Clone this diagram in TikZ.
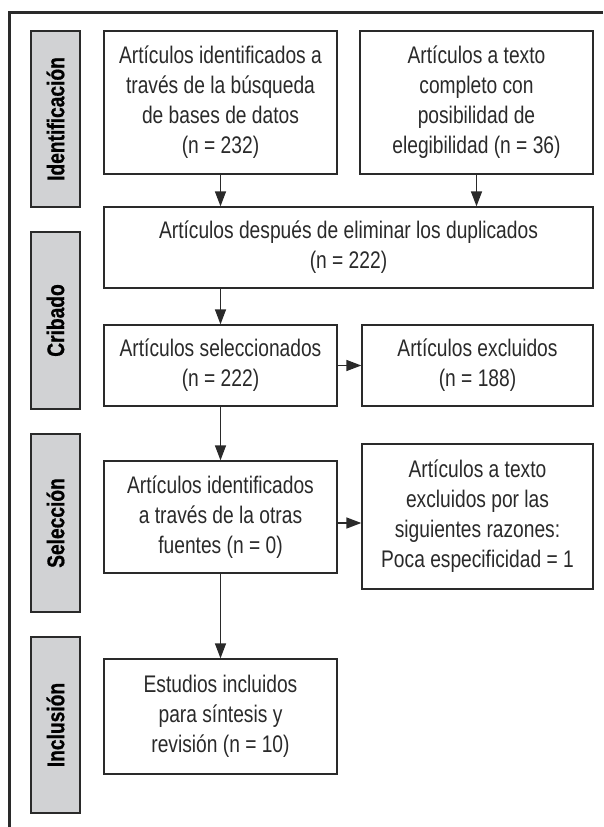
\documentclass[tikz,border=0pt]{standalone}
\usepackage{fontspec}
\setmainfont{Liberation Sans}[FakeStretch=0.8]
\newfontfamily\phasefont{Liberation Sans}[FakeStretch=0.8, FakeBold=0.8]
\usetikzlibrary{shapes,arrows,arrows.meta}
\definecolor{linegray}{HTML}{2A2A2A}
\definecolor{phasegray}{HTML}{D1D2D4}
\tikzstyle{block} = [draw=linegray, line width=1.3pt, fill=white, rectangle,
    align=center, text=linegray, inner sep=0pt,
    font=\fontsize{24}{30}\selectfont]
\tikzstyle{phase} = [draw=linegray, line width=1.3pt, fill=phasegray, rectangle,
    rotate=90, minimum height=49pt, text=black, inner sep=0pt,
    font=\phasefont\bfseries\fontsize{24}{26}\selectfont]
\tikzstyle{frame} = [draw=linegray, line width=2.7pt]
\tikzstyle{link} = [->, draw=linegray, line width=1.4pt]

\begin{document}
\begin{tikzpicture}[x=1pt, y=-1pt, >={Triangle[length=15pt,width=11pt]}]
    \useasboundingbox (0,0) rectangle (603,827);
    % outer frame, only top and left edges show
    \draw [frame] (9.7,827) |- (603,12.5);

    % phases on the left
    \node [phase, minimum width=176pt] (ident) at (55.5,119) {Identificación};
    \node [phase, minimum width=177pt] (criba) at (55.5,320.5) {Cribado};
    \node [phase, minimum width=178pt] (selec) at (55.5,523) {Selección};
    \node [phase, minimum width=176pt] (inclu) at (55.5,725) {Inclusión};

    % the blocks
    \node [block, minimum width=233pt, minimum height=143pt] (bases) at (220.5,102.5)
        {Artículos identificados a\\ través de la búsqueda\\ de bases de datos\\ (n = 232)};
    \node [block, minimum width=233pt, minimum height=143pt] (texto) at (476.5,102.5)
        {Artículos a texto\\ completo con\\ posibilidad de\\ elegibilidad (n = 36)};
    \node [block, minimum width=489pt, minimum height=81pt] (dupl) at (348.5,247.5)
        {Artículos después de eliminar los duplicados\\ (n = 222)};
    \node [block, minimum width=233pt, minimum height=81pt] (selecc) at (220.5,365.5)
        {Artículos seleccionados\\ (n = 222)};
    \node [block, minimum width=231pt, minimum height=81pt] (exclu) at (477.5,365.5)
        {Artículos excluidos\\ (n = 188)};
    \node [block, minimum width=233pt, minimum height=112pt] (otras) at (220.5,517)
        {Artículos identificados\\ a través de la otras\\ fuentes (n = 0)};
    \node [block, minimum width=231pt, minimum height=145pt] (razones) at (477.5,516.5)
        {Artículos a texto\\ excluidos por las\\ siguientes razones:\\ Poca especificidad = 1};
    \node [block, minimum width=233pt, minimum height=115pt] (estudios) at (220.5,716.5)
        {Estudios incluidos\\ para síntesis y\\ revisión (n = 10)};

    % connecting them
    \draw [link] (bases.south) -- (bases.south |- dupl.north);
    \draw [link] (texto.south) -- (texto.south |- dupl.north);
    \draw [link] (selecc.north |- dupl.south) -- (selecc.north);
    \draw [link] (selecc.east) -- (exclu.west);
    \draw [link] (selecc) -- (otras);
    \draw [link] ([yshift=-6pt]otras.east) -- ([yshift=-6pt]otras.east -| razones.west);
    \draw [link] (otras) -- (estudios);
\end{tikzpicture}
\end{document}
